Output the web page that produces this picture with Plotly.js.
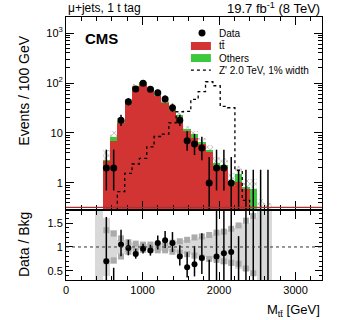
<!DOCTYPE html>
<html>
<head>
<meta charset="utf-8">
<script src="https://cdn.plot.ly/plotly-3.0.1.min.js"></script>
<style>
body { margin: 0; }
#plot { width: 341px; height: 320px; }
</style>
</head>
<body>
<div id="plot"></div>
<script>
// bin centres (bins ~96 GeV wide)
var binWidth = 96;
var massBins = [527, 623, 719, 815, 911, 1007, 1103, 1199, 1295, 1391, 1487, 1583,
                1679, 1775, 1871, 1967, 2063, 2159, 2255, 2351, 2447, 2543, 2639];
var dataCounts = [2, 2, 18, 42, 76, 99, 75, 64, 48, 32, 18, 7, 6, 5, 1, 2, 2, 1, 0, 0, 0, 0, 0];
var dataErrUp = [2.64, 2.64, 5.3, 7.5, 9.8, 11, 9.7, 9.1, 8, 6.7, 5.3, 3.83, 3.61, 3.38, 2.3,
                 2.64, 2.64, 2.3, 1.84, 1.84, 1.84, 1.84, 1.84];
var dataErrDown = [1.29, 1.29, 4.2, 6.5, 8.7, 9.9, 8.6, 8, 6.9, 5.6, 4.2, 2.58, 2.38, 2.16, 0.83,
                   1.29, 1.29, 0.83, 0, 0, 0, 0, 0];
var ttbar = [2.7, 6.9, 15.5, 40, 83, 97, 76, 55, 39, 27.5, 21, 11.2, 8.0, 5.9, 4.1, 2.15, 2.1,
             0.87, 1.05, 0.77, 0.3, 0.07, 0.05];
var others = [0.15, 1.3, 1.6, 3, 6, 6, 5, 4, 3, 2, 1.5, 1, 1.4, 0.6, 0.4, 0.35, 0.2, 0.25, 0.45,
              0.05, 0.45, 0.05, 0.05];
var zprime = [0, 0, 0.67, 1.56, 2.4, 3.1, 5.3, 8.5, 9.5, 16, 26.6, 27, 47, 67, 106, 88, 34, 32,
              1.8, 0.45, 0, 0, 0];

// background uncertainty (relative half width), one extra bin on the left
var bandBins = [431].concat(massBins);
var bandHalf = [3, 0.6, 0.35, 0.15, 0.1, 0.08, 0.07, 0.07, 0.08, 0.08, 0.1, 0.12, 0.14, 0.16,
                0.2, 0.25, 0.3, 0.35, 0.4, 0.45, 0.5, 0.6, 3, 3];
// shifted templates in the ratio (grey squares)
var sysBins = massBins.slice(0, 21);
var sysUp = [0.35, 0.28, 0.18, 0.1, 0.07, 0.05, 0.05, 0.06, 0.07, 0.09, 0.12, 0.15, 0.2, 0.22,
             0.25, 0.3, 0.32, 0.38, 0.45, 0.55, 0.65];
var sysDown = [0.3, 0.28, 0.2, 0.1, 0.08, 0.06, 0.06, 0.07, 0.07, 0.1, 0.12, 0.15, 0.18, 0.22,
               0.25, 0.27, 0.3, 0.33, 0.35, 0.45, 0.55];

var red = '#d23333', green = '#3cc83c';
var total = ttbar.map(function(v, i) { return v + others[i]; });
var tiny = 1e-3; // stand-in for zero on the log axis (falls below the frame)

var hatchLow = total.map(function(v, i) { return v * Math.max(1 - bandHalf[i + 1], 0.01); });
var hatchLen = total.map(function(v, i) { return v * (1 + bandHalf[i + 1]) - hatchLow[i]; });

var hatch = {
  x: massBins, base: hatchLow, y: hatchLen, type: 'bar', xaxis: 'x2', yaxis: 'y2',
  width: binWidth, showlegend: false, hoverinfo: 'skip',
  marker: {color: 'rgba(0,0,0,0)', line: {width: 0},
           pattern: {shape: 'x', fgcolor: '#8c8c8c', size: 4, solidity: 0.25}}
};
var ttTrace = {
  x: massBins, y: ttbar, type: 'bar', xaxis: 'x2', yaxis: 'y2', showlegend: false,
  width: binWidth, marker: {color: red, line: {width: 0}}
};
var othersTrace = {
  x: massBins, base: ttbar, y: others, type: 'bar', xaxis: 'x2', yaxis: 'y2', showlegend: false,
  width: binWidth, marker: {color: green, line: {width: 0}}
};

// Z' as a step line over bin edges
var zx = massBins.map(function(c) { return c - binWidth / 2; })
                 .concat([massBins[massBins.length - 1] + binWidth / 2]);
var zy = zprime.map(function(v) { return v > 0 ? v : tiny; }).concat([tiny]);
var zTrace = {
  x: zx, y: zy, type: 'scatter', mode: 'lines', xaxis: 'x2', yaxis: 'y2', showlegend: false,
  line: {shape: 'hv', color: 'black', width: 1.3, dash: 'dot'}
};

var dataTrace = {
  x: massBins, y: dataCounts.map(function(v) { return v > 0 ? v : tiny; }),
  type: 'scatter', mode: 'markers', xaxis: 'x2', yaxis: 'y2', showlegend: false,
  marker: {color: 'black', size: 7},
  error_y: {type: 'data', symmetric: false,
            array: dataCounts.map(function(v, i) { return v > 0 ? dataErrUp[i] : dataErrUp[i] - tiny; }),
            arrayminus: dataErrDown, color: 'black', thickness: 1.5, width: 0}
};

// ratio panel
var band = {
  x: bandBins, base: bandHalf.map(function(h) { return 1 - h; }),
  y: bandHalf.map(function(h) { return 2 * h; }), type: 'bar', width: binWidth,
  xaxis: 'x', yaxis: 'y', showlegend: false, hoverinfo: 'skip',
  marker: {color: '#d9d9d9', line: {width: 0}}
};
var sqUp = {
  x: sysBins, y: sysUp.map(function(s) { return 1 + s; }), type: 'scatter', mode: 'markers',
  xaxis: 'x', yaxis: 'y', showlegend: false,
  marker: {symbol: 'square', size: 6, color: '#ababab'}
};
var sqDown = {
  x: sysBins, y: sysDown.map(function(s) { return 1 - s; }), type: 'scatter', mode: 'markers',
  xaxis: 'x', yaxis: 'y', showlegend: false,
  marker: {symbol: 'square', size: 6, color: '#ababab'}
};
var ratioTrace = {
  x: massBins, y: dataCounts.map(function(v, i) { return v / total[i]; }),
  type: 'scatter', mode: 'markers', xaxis: 'x', yaxis: 'y', showlegend: false,
  marker: {color: 'black', size: 6},
  error_y: {type: 'data', symmetric: false,
            array: dataErrUp.map(function(e, i) { return e / total[i]; }),
            arrayminus: dataErrDown.map(function(e, i) { return e / total[i]; }),
            color: 'black', thickness: 1.5, width: 0}
};

var logMinor = [];
[0.1, 1, 10, 100, 1000].forEach(function(d) {
  for (var k = 2; k <= 9; k++) logMinor.push(k * d);
});

var axisCommon = {
  showline: true, linecolor: 'black', linewidth: 1, mirror: 'allticks',
  ticks: 'inside', tickcolor: 'black', showgrid: false, zeroline: false,
  tickfont: {size: 11, color: 'black'}
};
var xRange = [0, 3345];

// hand-drawn legend (ROOT-like tight rows)
var legX0 = 0.488, legX1 = 0.566, legTextX = 0.59;
var legendShapes = [
  {type: 'circle', xref: 'paper', yref: 'paper', x0: 0.5176, x1: 0.5449, y0: 0.926, y1: 0.9525,
   fillcolor: 'black', line: {width: 0}},
  {type: 'rect', xref: 'paper', yref: 'paper', x0: legX0, x1: legX1, y0: 0.8745, y1: 0.905,
   fillcolor: red, line: {width: 0}},
  {type: 'rect', xref: 'paper', yref: 'paper', x0: legX0, x1: legX1, y0: 0.829, y1: 0.859,
   fillcolor: green, line: {width: 0}},
  {type: 'line', xref: 'paper', yref: 'paper', x0: legX0, x1: legX1, y0: 0.798, y1: 0.798,
   line: {color: 'black', width: 1.3, dash: 'dot'}}
];
var legendNames = ['Data', 'tt\u0304', 'Others', "Z' 2.0 TeV, 1% width"];
var legendY = [0.939, 0.890, 0.844, 0.795];
var legendText = legendNames.map(function(t, i) {
  return {text: t, xref: 'paper', yref: 'paper', x: legTextX, y: legendY[i],
          xanchor: 'left', yanchor: 'middle', showarrow: false, font: {size: 10}};
});

var layout = {
  width: 341, height: 320,
  margin: {l: 66, r: 19, t: 17, b: 40},
  paper_bgcolor: 'white', plot_bgcolor: 'white',
  font: {family: 'Liberation Sans, Arial, sans-serif', color: 'black'},
  barmode: 'overlay', bargap: 0, showlegend: false,
  xaxis: Object.assign({}, axisCommon, {
    domain: [0, 1], range: xRange, anchor: 'y',
    tickvals: [0, 1000, 2000, 3000], ticklen: 8,
    minor: {dtick: 200, tick0: 0, ticklen: 4, ticks: 'inside', tickcolor: 'black'}
  }),
  xaxis2: Object.assign({}, axisCommon, {
    domain: [0, 1], range: xRange, anchor: 'y2', matches: 'x', showticklabels: false,
    tickvals: [0, 1000, 2000, 3000], ticklen: 8,
    minor: {dtick: 200, tick0: 0, ticklen: 4, ticks: 'inside', tickcolor: 'black'}
  }),
  yaxis: Object.assign({}, axisCommon, {
    domain: [0, 0.262], range: [0.31, 1.75], anchor: 'x',
    tickvals: [0.5, 1, 1.5], ticktext: ['0.5', '1', '1.5'], ticklen: 7,
    minor: {dtick: 0.1, tick0: 0, ticklen: 3, ticks: 'inside', tickcolor: 'black'}
  }),
  yaxis2: Object.assign({}, axisCommon, {
    domain: [0.27, 1], type: 'log', range: [-0.52, 3.32], anchor: 'x2',
    tickvals: [1, 10, 100, 1000], ticktext: ['1', '10', '10<sup>2</sup>', '10<sup>3</sup>'],
    ticklen: 8,
    minor: {tickvals: logMinor, ticklen: 4, ticks: 'inside', tickcolor: 'black'}
  }),
  shapes: [
    {type: 'line', xref: 'x', yref: 'y', x0: xRange[0], x1: xRange[1], y0: 1, y1: 1,
     line: {color: '#333', width: 1, dash: 'dot'}},
    {type: 'line', xref: 'paper', yref: 'y2 domain', x0: 0, x1: 1, y0: 0.008, y1: 0.008,
     line: {color: '#a83030', width: 1.2}}
  ].concat(legendShapes),
  annotations: [
    {text: '\u03bc+jets, 1 t tag', xref: 'paper', yref: 'paper', x: 0, y: 1.0,
     xanchor: 'left', yanchor: 'bottom', showarrow: false, font: {size: 12}},
    {text: '19.7 fb<sup>-1</sup> (8 TeV)', xref: 'paper', yref: 'paper', x: 1, y: 0.997,
     xanchor: 'right', yanchor: 'bottom', showarrow: false, font: {size: 13}},
    {text: '<b>CMS</b>', xref: 'paper', yref: 'paper', x: 0.065, y: 0.92,
     xanchor: 'left', yanchor: 'middle', showarrow: false, font: {size: 15}},
    {text: 'Events / 100 GeV', xref: 'paper', yref: 'paper', x: -0.164, y: 0.72,
     xanchor: 'center', yanchor: 'middle', textangle: -90, showarrow: false, font: {size: 14}},
    {text: 'Data / Bkg', xref: 'paper', yref: 'paper', x: -0.164, y: 0.133,
     xanchor: 'center', yanchor: 'middle', textangle: -90, showarrow: false, font: {size: 14}},
    {text: 'M<sub>tt\u0304</sub> [GeV]', xref: 'paper', yref: 'paper', x: 1, y: -0.075,
     xanchor: 'right', yanchor: 'top', showarrow: false, font: {size: 13}}
  ].concat(legendText)
};

Plotly.newPlot('plot', [band, sqUp, sqDown, ratioTrace, hatch, ttTrace, othersTrace, zTrace, dataTrace],
               layout, {displayModeBar: false, staticPlot: true});
</script>
</body>
</html>
